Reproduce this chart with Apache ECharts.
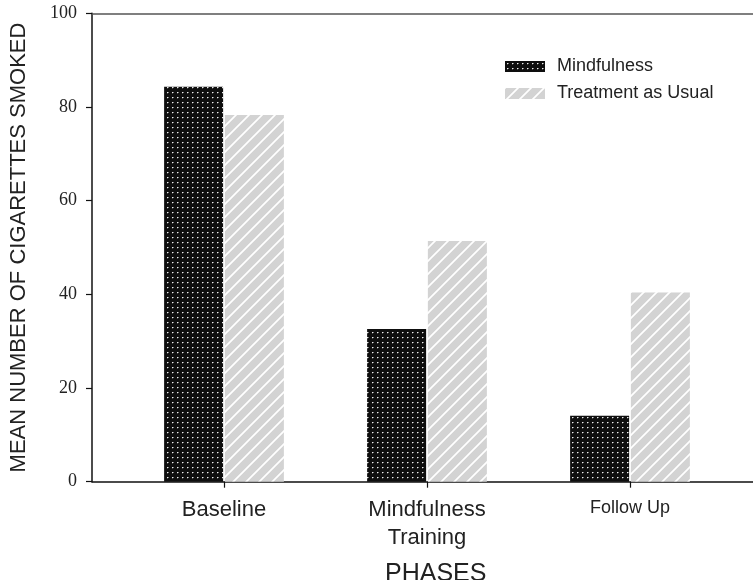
<!DOCTYPE html>
<html>
<head>
<meta charset="utf-8">
<script src="https://cdn.jsdelivr.net/npm/echarts@6/dist/echarts.min.js"></script>
<style>
html,body{margin:0;padding:0;background:#fff;}
#chart{width:753px;height:580px;}
</style>
</head>
<body>
<div id="chart"></div>
<script>
// ---- data ----
const categories = ['Baseline', 'Mindfulness\nTraining', 'Follow Up'];
const seriesNames = ['Mindfulness', 'Treatment as Usual'];
const mindfulness = [84.3, 32.6, 14.1];
const treatmentAsUsual = [78.3, 51.4, 40.4];
const yMin = 0, yMax = 100, yInterval = 20;
const xAxisTitle = 'PHASES';
const yAxisTitle = 'MEAN NUMBER OF CIGARETTES SMOKED';

// ---- patterns ----
function dotPattern() {
  const c = document.createElement('canvas');
  c.width = 5; c.height = 5;
  const g = c.getContext('2d');
  g.fillStyle = '#0e0e0e'; g.fillRect(0, 0, 5, 5);
  g.fillStyle = '#eeeeee'; g.fillRect(2, 2, 1, 1);
  g.fillStyle = '#7a7a7a'; g.fillRect(3, 2, 1, 1);
  g.fillStyle = '#444444'; g.fillRect(2, 3, 1, 1);
  return c;
}
function hatchPattern() {
  const s = 13;
  const c = document.createElement('canvas');
  c.width = s; c.height = s;
  const g = c.getContext('2d');
  g.fillStyle = '#d3d3d3'; g.fillRect(0, 0, s, s);
  g.strokeStyle = '#ffffff'; g.lineWidth = 1.7;
  g.beginPath();
  g.moveTo(-2, s + 2); g.lineTo(s + 2, -2);
  g.moveTo(-2, 2); g.lineTo(2, -2);
  g.moveTo(s - 2, s + 2); g.lineTo(s + 2, s - 2);
  g.stroke();
  return c;
}

const chart = echarts.init(document.getElementById('chart'), null, {renderer: 'canvas'});
const sans = 'Liberation Sans, Arial, sans-serif';
const serif = 'Liberation Serif, Times New Roman, serif';
const gridTop = 13.3, gridBottom = 98.3;

chart.setOption({
  animation: false,
  backgroundColor: '#ffffff',
  title: {
    text: xAxisTitle,
    left: 385, top: 562,
    padding: 0,
    textStyle: {fontFamily: sans, fontSize: 25, fontWeight: 'normal', color: '#222'}
  },
  legend: {
    data: seriesNames,
    orient: 'vertical',
    left: 505, top: 56.5,
    padding: 0,
    itemWidth: 40, itemHeight: 11, itemGap: 7,
    icon: 'rect',
    textStyle: {fontFamily: sans, fontSize: 18, lineHeight: 20, color: '#222', padding: [0, 0, 0, 7]}
  },
  grid: [
    {left: 92, right: 0, top: gridTop, bottom: gridBottom},
    {left: 122.5, right: 21.5, top: gridTop, bottom: gridBottom}
  ],
  xAxis: [
    {
      type: 'value', gridIndex: 0, position: 'bottom', min: 0, max: 1,
      axisLine: {show: true, onZero: false, lineStyle: {color: '#111', width: 1.5}},
      axisTick: {show: false}, axisLabel: {show: false}, splitLine: {show: false}
    },
    {
      type: 'value', gridIndex: 0, position: 'top', min: 0, max: 1,
      axisLine: {show: true, onZero: false, lineStyle: {color: '#555', width: 1.5}},
      axisTick: {show: false}, axisLabel: {show: false}, splitLine: {show: false}
    },
    {
      type: 'category', gridIndex: 1, data: categories,
      axisLine: {show: false},
      axisTick: {show: true, alignWithLabel: true, length: 6, lineStyle: {color: '#111', width: 1.2}},
      axisLabel: {
        margin: 14, color: '#222', fontFamily: sans, fontSize: 22, lineHeight: 28,
        formatter: function (v) { return v === 'Follow Up' ? '{s|' + v + '}' : v; },
        rich: {s: {fontFamily: sans, fontSize: 18, lineHeight: 25, color: '#222'}}
      },
      splitLine: {show: false}
    }
  ],
  yAxis: [
    {
      type: 'value', gridIndex: 0, min: yMin, max: yMax, interval: yInterval,
      name: yAxisTitle, nameLocation: 'middle', nameGap: 62,
      nameTextStyle: {fontFamily: sans, fontSize: 22, color: '#222'},
      axisLine: {show: true, lineStyle: {color: '#111', width: 1.5}},
      axisTick: {show: true, length: 6, lineStyle: {color: '#111', width: 1.2}},
      axisLabel: {margin: 15, fontFamily: serif, fontSize: 18, color: '#222'},
      splitLine: {show: false}
    },
    {
      type: 'value', gridIndex: 1, min: yMin, max: yMax, interval: yInterval, show: false
    }
  ],
  series: [
    {
      name: seriesNames[0], type: 'bar', xAxisIndex: 2, yAxisIndex: 1,
      data: mindfulness, barWidth: 59, barGap: '3%',
      itemStyle: {color: {image: dotPattern(), repeat: 'repeat'}}
    },
    {
      name: seriesNames[1], type: 'bar', xAxisIndex: 2, yAxisIndex: 1,
      data: treatmentAsUsual, barWidth: 59, barGap: '3%',
      itemStyle: {color: {image: hatchPattern(), repeat: 'repeat'}}
    }
  ]
});
</script>
</body>
</html>
